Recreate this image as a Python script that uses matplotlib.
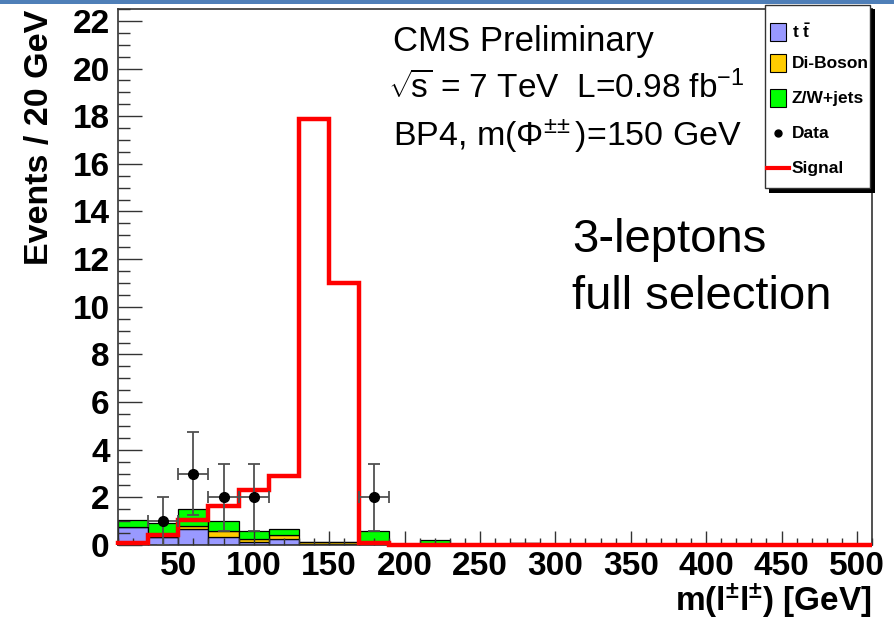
import numpy as np
import matplotlib
matplotlib.use("Agg")
import matplotlib.pyplot as plt
from matplotlib.patches import Rectangle
from matplotlib.lines import Line2D
from matplotlib.ticker import MultipleLocator

plt.rcParams["font.family"] = ["Liberation Sans", "DejaVu Sans"]
plt.rcParams["mathtext.fontset"] = "custom"
plt.rcParams["mathtext.rm"] = "Liberation Sans"
plt.rcParams["mathtext.it"] = "Liberation Sans"
plt.rcParams["mathtext.bf"] = "Liberation Sans:bold"

# 20 GeV bins from 10 to 510 GeV
edges = np.arange(10, 511, 20)
centers = 0.5 * (edges[:-1] + edges[1:])
nb = len(centers)

def pad(vals):
    return np.array(vals + [0.0] * (nb - len(vals)))

ttbar   = pad([0.75, 0.35, 0.66, 0.32, 0.14, 0.24, 0.03, 0.03])
diboson = pad([0.02, 0.00, 0.14, 0.27, 0.10, 0.18, 0.10, 0.10, 0.00, 0.00, 0.00, 0.00, 0.00, 0.10])
zjets   = pad([0.30, 0.58, 0.70, 0.43, 0.36, 0.25, 0.00, 0.00, 0.57, 0.00, 0.20])
signal  = pad([0.10, 0.40, 1.05, 1.65, 2.30, 2.90, 17.9, 11.0, 0.08])

data_x = np.array([40, 60, 80, 100, 180])
data_y = np.array([1, 3, 2, 2, 2])

C_TT, C_VV, C_ZW = "#9999ff", "#ffcc00", "#00ff00"

fig = plt.figure(figsize=(8.94, 6.2), dpi=100)
W, H = 894, 620
ax = fig.add_axes([118 / W, 1 - 545 / H, (872 - 118) / W, (545 - 9) / H])

# stacked backgrounds
kw = dict(width=20, edgecolor="black", linewidth=0.9, align="center")
ax.bar(centers, ttbar, color=C_TT, **kw)
ax.bar(centers, diboson, bottom=ttbar, color=C_VV, **kw)
ax.bar(centers, zjets, bottom=ttbar + diboson, color=C_ZW, **kw)

# signal
ax.stairs(signal, edges, color="red", lw=3.2, zorder=3, clip_on=False)

# data
ax.errorbar(data_x, data_y, xerr=10, yerr=np.sqrt(data_y), fmt="o", color="black",
            ms=7, ecolor="#505050", elinewidth=1.3, capsize=4, capthick=1.3, zorder=5)

ax.set_xlim(10, 510)
ax.set_ylim(0, 22.5)
ax.xaxis.set_major_locator(MultipleLocator(50))
ax.xaxis.set_minor_locator(MultipleLocator(10))
ax.yaxis.set_major_locator(MultipleLocator(2))
ax.yaxis.set_minor_locator(MultipleLocator(0.5))
ax.tick_params(axis="y", which="major", direction="in", length=17, width=1, color="#333333",
               labelsize=24, pad=6)
ax.tick_params(axis="y", which="minor", direction="in", length=8.5, width=1, color="#333333")
ax.tick_params(axis="x", which="major", direction="in", length=10, width=1, color="#333333",
               labelsize=24, pad=4)
ax.tick_params(axis="x", which="minor", direction="in", length=5, width=1, color="#333333")
for lab in ax.get_xticklabels() + ax.get_yticklabels():
    lab.set_fontweight("bold")
for s in ax.spines.values():
    s.set_color("#333333")
    s.set_linewidth(1.2)

fig.text(40 / W, 1 - 10 / H, "Events / 20 GeV", rotation=90, ha="center", va="top",
         fontsize=24.5, fontweight="bold")
fig.text(872 / W, 1 - 601 / H, r"m($\mathbf{l^{\pm}l^{\pm}}$) [GeV]", ha="right", va="center",
         fontsize=24, fontweight="bold")

fig.text(393 / W, 1 - 42 / H, "CMS Preliminary", ha="left", va="center", fontsize=25)
fig.text(388 / W, 1 - 88 / H,
         r"$\sqrt{\!\mathregular{s}}$ = 7 TeV  L=0.98 fb$^{\mathregular{-1}}$",
         ha="left", va="center", fontsize=24)
fig.text(393 / W, 1 - 136 / H, r"BP4, m($\Phi^{\pm\!\pm}$)=150 GeV", ha="left", va="center",
         fontsize=24.5)
fig.text(572 / W, 1 - 240 / H, "3-leptons", ha="left", va="center", fontsize=34)
fig.text(572 / W, 1 - 297 / H, "full selection", ha="left", va="center", fontsize=34)

# legend box with ROOT-style shadow
def fx(px):
    return px / W

def fy(py):
    return 1 - py / H

fig.add_artist(Rectangle((fx(769), fy(193)), fx(875) - fx(769), fy(9) - fy(193),
                         transform=fig.transFigure, facecolor="black", edgecolor="none"))
fig.add_artist(Rectangle((fx(765), fy(188)), fx(870) - fx(765), fy(5) - fy(188),
                         transform=fig.transFigure, facecolor="white", edgecolor="#333333",
                         lw=1))
entries = [("patch", C_TT, r"t $\mathbf{\bar{t}}$"), ("patch", C_VV, "Di-Boson"),
           ("patch", C_ZW, "Z/W+jets"), ("data", "black", "Data"), ("line", "red", "Signal")]
rows = [32, 63, 98, 133, 168]
for (kind, col, txt), yy in zip(entries, rows):
    if kind == "patch":
        fig.add_artist(Rectangle((fx(770), fy(yy + 9)), fx(786) - fx(770), fy(yy - 9) - fy(yy + 9),
                                 transform=fig.transFigure, facecolor=col, edgecolor="black",
                                 lw=0.8))
    elif kind == "data":
        fig.add_artist(Line2D([fx(778)], [fy(yy)], transform=fig.transFigure, marker="o",
                              color="black", ms=5))
    else:
        fig.add_artist(Line2D([fx(767), fx(789)], [fy(yy), fy(yy)], transform=fig.transFigure,
                              color="red", lw=3))
    fig.text(fx(792), fy(yy), txt, ha="left", va="center", fontsize=12.5, fontweight="bold")

# blue band along the top
fig.add_artist(Rectangle((0, fy(4)), 1, fy(0) - fy(4), transform=fig.transFigure,
                         facecolor="#4f7fb8", edgecolor="none"))

fig.savefig("out.png", dpi=100)
